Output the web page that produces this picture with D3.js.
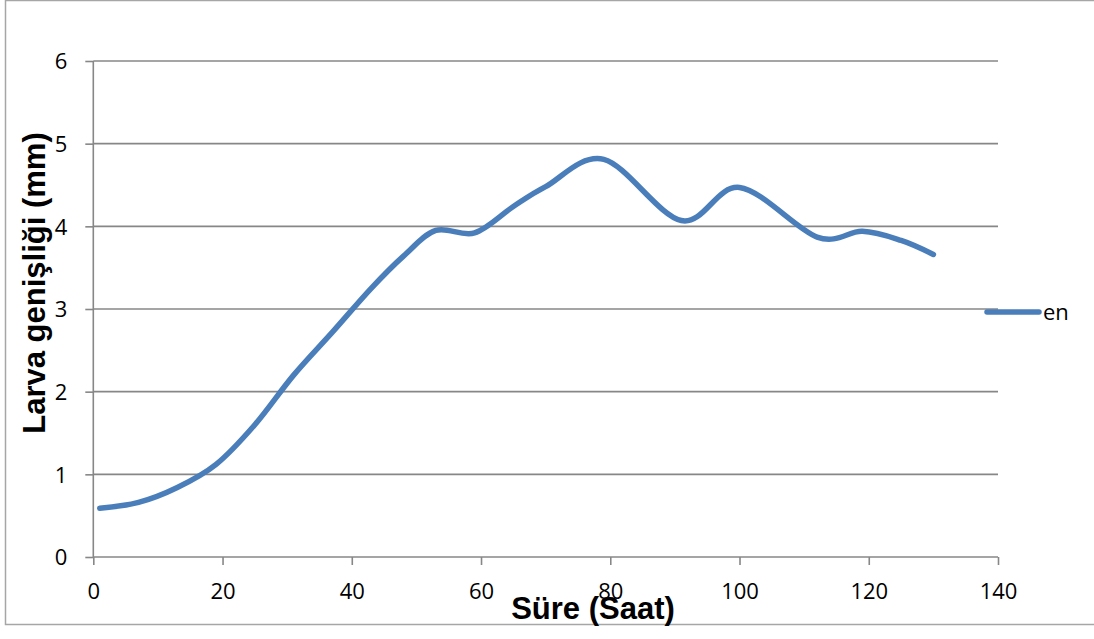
<!DOCTYPE html>
<html>
<head>
<meta charset="utf-8">
<script src="https://cdn.jsdelivr.net/npm/d3@7"></script>
<style>
  html, body { margin: 0; padding: 0; background: #ffffff; }
  svg { display: block; }
</style>
</head>
<body>
<svg id="chart" width="1094" height="639"></svg>
<script>
// ---- data ----
const hours = [1, 7, 13, 19, 25, 31, 37, 43, 48, 53, 59, 65, 70, 79, 91, 100, 112, 119, 125, 130];
const width_mm = [0.59, 0.66, 0.84, 1.12, 1.6, 2.2, 2.72, 3.25, 3.64, 3.95, 3.92, 4.24, 4.48, 4.81, 4.07, 4.47, 3.87, 3.94, 3.83, 3.66];
const xTicks = [0, 20, 40, 60, 80, 100, 120, 140];
const yTicks = [0, 1, 2, 3, 4, 5, 6];
const seriesName = "en";
const xTitle = "Süre (Saat)";
const yTitle = "Larva genişliği (mm)";

const svg = d3.select("#chart");
const W = 1094, H = 639;

// outer chart border
svg.append("rect").attr("x", 5.5).attr("y", 0.5).attr("width", W + 10).attr("height", 624)
  .attr("fill", "#fff").attr("stroke", "#a6a6a6").attr("stroke-width", 1.5);

const x = d3.scaleLinear().domain([0, 140]).range([93.3, 998]);
const y = d3.scaleLinear().domain([0, 6]).range([557, 61]);

const gridColor = "#878787";

// gridlines
svg.append("g").selectAll("line").data(yTicks.filter(d => d > 0)).join("line")
  .attr("x1", x(0)).attr("x2", x(140))
  .attr("y1", d => y(d)).attr("y2", d => y(d))
  .attr("stroke", gridColor).attr("stroke-width", 1.6);

// y axis
const yAxis = svg.append("g").attr("transform", `translate(${x(0)},0)`)
  .call(d3.axisLeft(y).tickValues(yTicks).tickSize(8).tickPadding(18).tickFormat(d3.format("d")));
yAxis.select(".domain").attr("stroke", gridColor).attr("stroke-width", 1.6).attr("d", `M0,${y(6)}V${y(0)}`);
yAxis.selectAll(".tick line").attr("stroke", gridColor).attr("stroke-width", 1.6);
yAxis.selectAll("text").attr("font-family", "'Open Sans', sans-serif").attr("font-size", 22).attr("fill", "#000").attr("dy", "0.35em");

// x axis
const xAxis = svg.append("g").attr("transform", `translate(0,${y(0)})`)
  .call(d3.axisBottom(x).tickValues(xTicks).tickSize(8).tickPadding(18).tickFormat(d3.format("d")));
xAxis.select(".domain").attr("stroke", gridColor).attr("stroke-width", 1.6).attr("d", `M${x(0)},0H${x(140)}`);
xAxis.selectAll(".tick line").attr("stroke", gridColor).attr("stroke-width", 1.6);
xAxis.selectAll("text").attr("font-family", "'Open Sans', sans-serif").attr("font-size", 22).attr("fill", "#000").attr("dy", "0.71em");

// series line
const pts = hours.map((h, i) => [h, width_mm[i]]);
const line = d3.line().x(d => x(d[0])).y(d => y(d[1])).curve(d3.curveCardinal.tension(0));
svg.append("path").datum(pts).attr("d", line)
  .attr("fill", "none").attr("stroke", "#4a7ebb").attr("stroke-width", 5.5)
  .attr("stroke-linecap", "round").attr("stroke-linejoin", "round");

// legend
const lg = svg.append("g").attr("transform", "translate(987,312)");
lg.append("line").attr("x1", 0).attr("x2", 52).attr("y1", 0).attr("y2", 0)
  .attr("stroke", "#4a7ebb").attr("stroke-width", 5.5).attr("stroke-linecap", "round");
lg.append("text").attr("x", 56).attr("y", 0).attr("dy", "0.35em")
  .attr("font-family", "'Open Sans', sans-serif").attr("font-size", 22).attr("fill", "#000").text(seriesName);

// axis titles
svg.append("text").attr("x", 593).attr("y", 619).attr("text-anchor", "middle")
  .attr("font-family", "'Liberation Sans', Arial, sans-serif").attr("font-weight", "bold")
  .attr("font-size", 31).attr("fill", "#000").text(xTitle);
svg.append("text").attr("transform", "translate(45,283) rotate(-90)").attr("text-anchor", "middle")
  .attr("font-family", "'Liberation Sans', Arial, sans-serif").attr("font-weight", "bold")
  .attr("font-size", 31).attr("fill", "#000").text(yTitle);
</script>
</body>
</html>
